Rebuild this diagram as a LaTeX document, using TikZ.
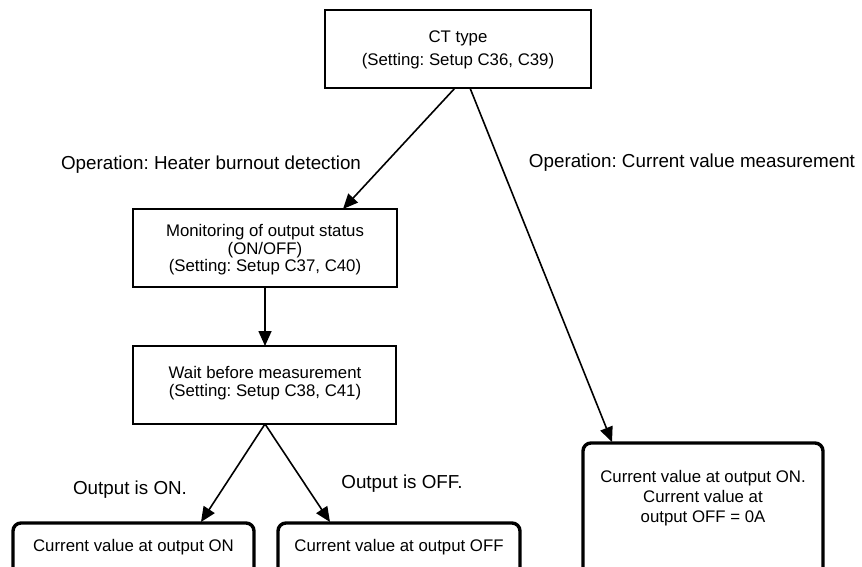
\documentclass[tikz,border=0pt]{standalone}
\usepackage{fontspec}
\setmainfont{Liberation Sans}
\usetikzlibrary{arrows.meta}
\frenchspacing
\begin{document}
\begin{tikzpicture}[x=1pt,y=-1pt,
  boxtext/.style={font=\fontsize{16.8}{17.5}\selectfont, align=center, inner sep=0pt},
  plainbox/.style={draw, line width=1.4pt, fill=white},
  resbox/.style={draw, line width=3.4pt, rounded corners=8pt},
  lbl/.style={font=\fontsize{18.8}{21}\selectfont, inner sep=0pt},
  conn/.style={line width=1.6pt, -{Triangle[length=15pt,width=13pt]}}]
\useasboundingbox (0,0) rectangle (862,566);
% boxes
\draw[plainbox] (325,10) rectangle (591,88);
\node[boxtext, font=\fontsize{16.8}{22.5}\selectfont] (ct) at (458,50) {CT type\\(Setting: Setup C36, C39)};
\coordinate (ctL) at (455,88);
\coordinate (ctR) at (470,88);

\draw[plainbox] (133,209) rectangle (397,287);
\node[boxtext] (mon) at (265,250) {Monitoring of output status\\(ON/OFF)\\(Setting: Setup C37, C40)};
\coordinate (monT) at (343,209);
\coordinate (monB) at (265,287);

\draw[plainbox] (133,346) rectangle (396,424);
\node[boxtext] (wait) at (265,383) {Wait before measurement\\(Setting: Setup C38, C41)};
\coordinate (waitT) at (265,346);
\coordinate (waitB) at (265,424);

\draw[resbox] (13,523) rectangle (254,580);
\node[boxtext] (on) at (133.5,547) {Current value at output ON};
\coordinate (onT) at (201,522);

\draw[resbox] (278,523) rectangle (520,580);
\node[boxtext] (off) at (399,547) {Current value at output OFF};
\coordinate (offT) at (330,522);

\draw[resbox] (583,443) rectangle (823,580);
\node[boxtext, font=\fontsize{16.8}{20}\selectfont] (cur) at (703,498) {Current value at output ON.\\Current value at\\output OFF = 0A};
\coordinate (curT) at (612,442);

% connectors
\draw[conn] (ctL) -- (monT);
\draw[conn] (ctR) -- (curT);
\draw[conn] (monB) -- (waitT);
\draw[conn] (waitB) -- (onT);
\draw[conn] (waitB) -- (offT);

% labels
\node[lbl] (l1) at (211,165) {Operation: Heater burnout detection};
\node[lbl] (l2) at (692,163) {Operation: Current value measurement};
\node[lbl] (l3) at (130,490) {Output is ON.};
\node[lbl] (l4) at (402,484) {Output is OFF.};
\end{tikzpicture}
\end{document}
